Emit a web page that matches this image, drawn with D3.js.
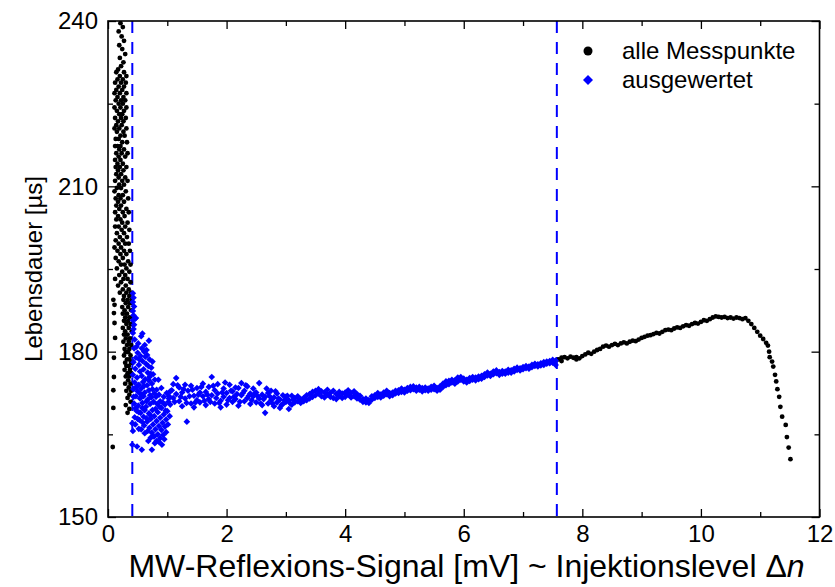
<!DOCTYPE html>
<html>
<head>
<meta charset="utf-8">
<title>Lebensdauer vs. MW-Reflexions-Signal</title>
<script src="https://d3js.org/d3.v7.min.js"></script>
<style>
  body { margin: 0; background: #fff; }
  svg { display: block; }
  text { font-family: "Liberation Sans", Arial, sans-serif; fill: #000; }
</style>
</head>
<body>
<svg width="835" height="587"></svg>
<script>
// alle Messpunkte (schwarz) - [Signal mV, Lebensdauer µs]
const allePunkte = [
  [0.21,239.6],[0.25,238.9],[0.18,238.1],[0.23,237.2],[0.27,236.4],[0.19,235.6],[0.24,234.9],[0.29,234.0],
  [0.20,233.3],[0.26,232.5],[0.22,231.8],[0.17,231.2],
  [0.14,230.7],[0.27,230.7],[0.20,230.0],[0.31,230.0],[0.16,229.4],[0.25,229.4],[0.12,228.8],[0.22,228.8],[0.30,228.8],
  [0.18,228.1],[0.27,228.1],[0.14,227.5],[0.24,227.5],[0.20,226.9],[0.31,226.9],[0.11,226.9],[0.16,226.2],[0.26,226.2],
  [0.13,225.6],[0.22,225.6],[0.29,225.6],[0.18,225.0],[0.25,225.0],[0.11,224.3],[0.21,224.3],[0.31,224.3],[0.15,223.7],
  [0.27,223.7],[0.19,223.1],[0.24,223.1],[0.12,222.4],[0.22,222.4],[0.30,222.4],[0.17,221.8],[0.26,221.8],[0.14,221.1],
  [0.23,221.1],[0.19,220.5],[0.31,220.5],[0.11,220.5],[0.15,219.9],[0.26,219.9],[0.21,219.2],[0.28,219.2],[0.13,218.6],
  [0.18,218.6],[0.24,218.0],[0.32,218.0],[0.16,217.3],[0.21,217.3],[0.12,217.3],[0.27,216.7],[0.19,216.7],[0.14,216.0],
  [0.23,216.0],[0.33,216.0],[0.18,215.4],[0.29,215.4],[0.12,214.8],[0.21,214.8],[0.25,214.1],[0.16,214.1],[0.31,213.5],
  [0.20,213.5],[0.13,213.5],[0.17,212.9],[0.26,212.9],[0.22,212.2],[0.14,212.2],[0.29,211.6],[0.18,211.6],[0.12,211.0],
  [0.24,211.0],[0.33,211.0],[0.19,210.3],[0.27,210.3],[0.15,209.7],[0.22,209.7],[0.30,209.1],[0.11,209.1],[0.18,208.4],
  [0.25,208.4],[0.13,207.8],[0.21,207.8],[0.34,207.8],[0.27,207.2],[0.17,207.2],[0.22,206.5],[0.14,206.5],[0.31,205.9],
  [0.19,205.9],[0.25,205.3],[0.12,205.3],[0.35,205.3],[0.17,204.6],[0.28,204.6],[0.21,204.0],[0.14,204.0],[0.33,203.4],
  [0.24,203.4],[0.18,202.7],[0.29,202.7],[0.12,202.7],[0.23,202.1],[0.36,202.1],[0.15,201.5],[0.27,201.5],[0.20,200.8],
  [0.32,200.8],[0.13,200.2],[0.25,200.2],[0.35,199.6],[0.18,199.6],[0.29,199.6],[0.22,198.9],[0.11,198.9],[0.27,198.3],
  [0.16,198.3],[0.37,198.3],[0.31,197.7],[0.21,197.7],[0.13,197.0],[0.25,197.0],[0.34,196.4],[0.18,196.4],[0.28,195.8],
  [0.22,195.8],[0.38,195.8],[0.15,195.1],[0.31,195.1],[0.24,194.5],[0.36,194.5],[0.19,193.9],[0.29,193.9],[0.33,193.2],
  [0.12,193.2],[0.26,193.2],[0.22,192.6],[0.38,192.6],[0.30,192.0],[0.17,192.0],[0.25,191.3],[0.35,191.3],[0.20,190.7],
  [0.31,190.7],[0.39,190.7],[0.27,190.1],[0.36,190.1],
  [0.26,189.4],[0.33,189.4],[0.40,189.4],[0.30,188.8],[0.37,188.8],[0.24,188.1],[0.34,188.1],[0.28,187.5],[0.39,187.5],
  [0.32,186.9],[0.25,186.9],[0.36,186.2],[0.29,186.2],[0.41,186.2],[0.27,185.6],[0.34,185.6],[0.31,185.0],[0.38,185.0],
  [0.25,184.3],[0.35,184.3],[0.29,183.7],[0.40,183.7],[0.33,183.1],[0.27,183.1],[0.37,182.4],[0.30,182.4],[0.26,181.8],
  [0.35,181.8],[0.32,181.2],[0.39,181.2],[0.28,180.5],[0.36,180.5],[0.34,179.9],[0.30,179.9],[0.38,179.3],[0.27,179.3],
  [0.32,178.6],[0.36,178.6],[0.29,178.0],[0.39,178.0],[0.35,177.4],[0.31,177.4],[0.28,176.7],[0.37,176.7],[0.33,176.1],
  [0.39,176.1],[0.30,175.5],[0.36,175.5],[0.34,174.8],[0.29,174.2],[0.38,174.2],[0.35,173.5],[0.31,172.9],[0.39,172.9],
  [0.36,172.2],[0.33,171.6],[0.38,170.9],[0.30,170.3],[0.36,169.6],[0.33,168.9],
  [0.09,189.4],[0.11,188.5],[0.10,187.0],[0.11,185.2],[0.12,182.5],[0.10,178.9],[0.10,175.4],[0.09,173.0],
  [0.09,169.8],[0.08,162.7],
  [7.60,178.6],[7.65,178.9],[7.65,178.3],[7.70,179.0],[7.75,178.8],[7.80,179.1],[7.85,178.9],[7.90,179.0],[7.90,178.6],
  [7.95,178.8],[8.00,179.2],[8.05,179.5],[8.10,179.8],[8.15,179.6],[8.20,180.0],[8.25,180.3],[8.30,180.5],[8.35,180.9],
  [8.40,181.1],[8.45,180.9],[8.50,181.2],[8.55,181.4],[8.60,181.2],[8.65,181.5],[8.70,181.7],[8.75,181.5],[8.80,181.8],
  [8.85,182.0],[8.90,181.9],[8.95,182.2],[9.00,182.5],[9.05,182.7],[9.10,182.9],[9.15,183.0],[9.20,183.2],[9.25,183.4],
  [9.30,183.3],[9.35,183.6],[9.40,183.9],[9.45,184.0],[9.50,183.9],[9.55,184.2],[9.60,184.4],[9.65,184.3],[9.70,184.6],
  [9.75,184.8],[9.80,184.7],[9.85,185.0],[9.90,185.2],[9.95,185.1],[10.00,185.4],[10.05,185.7],[10.10,185.6],
  [10.15,185.9],[10.20,186.2],[10.25,186.4],[10.30,186.3],[10.35,186.2],[10.40,186.3],[10.45,186.1],[10.50,186.2],
  [10.55,186.0],[10.60,186.2],[10.65,186.1],[10.70,185.9],[10.75,186.1],[10.80,185.6],[10.85,185.0],[10.90,184.3],
  [10.95,183.6],[11.00,182.9],[11.05,182.3],[11.10,181.6],[11.13,181.1],
  [11.15,180.0],[11.16,179.0],[11.20,178.2],[11.22,177.3],[11.25,175.8],[11.27,174.6],[11.29,173.2],[11.32,171.8],
  [11.34,170.0],[11.37,168.2],[11.43,166.7],[11.45,164.5],[11.48,162.6],[11.51,160.5]
];

// ausgewertete Messpunkte (blau)
const ausgewertet = [
  [0.42,190.6],[0.43,189.8],[0.42,189.0],[0.44,188.2],[0.42,187.4],[0.43,186.6],[0.46,186.0],[0.42,185.7],[0.44,184.9],
  [0.43,184.1],[0.42,183.4],[0.47,186.1],[0.58,183.3],[0.65,180.3],[0.69,182.0],
  [0.44,180.6],[0.50,179.8],[0.47,178.9],[0.55,179.2],[0.61,180.0],[0.66,179.4],[0.43,178.1],[0.52,177.6],[0.58,178.3],
  [0.64,177.8],[0.70,178.6],[0.46,176.9],[0.54,176.4],[0.60,176.8],[0.67,176.2],[0.73,177.1],[0.42,175.8],[0.49,175.3],
  [0.57,175.6],[0.63,175.0],[0.70,175.4],[0.45,174.4],[0.52,174.0],[0.59,174.5],[0.66,173.9],[0.74,174.2],[0.43,173.2],
  [0.50,172.8],[0.56,173.3],[0.62,172.6],[0.69,173.0],[0.47,171.9],[0.54,171.5],[0.60,171.9],[0.67,171.3],[0.73,171.7],
  [0.44,170.6],[0.51,170.2],[0.58,170.7],[0.64,170.0],[0.71,170.5],[0.48,169.3],[0.55,168.9],[0.62,169.4],[0.69,168.8],
  [0.45,168.1],[0.53,167.6],[0.60,168.2],[0.76,175.9],[0.78,172.4],[0.80,169.6],
  [0.45,182.2],[0.51,181.5],[0.56,182.8],[0.62,181.2],[0.48,180.9],[0.57,180.6],[0.53,178.6],[0.63,179.1],[0.68,177.4],
  [0.75,178.2],[0.72,176.0],[0.79,174.9],[0.82,173.1],[0.86,172.2],[0.90,173.4],[0.94,171.8],[0.99,172.5],[0.88,171.0],
  [0.83,170.5],[0.77,170.9],[0.75,169.4],[0.71,168.5],[0.65,167.9],[0.58,167.2],[0.50,167.8],[0.46,166.8],[0.56,165.9],
  [0.61,166.6],[0.67,165.6],[0.72,164.4],[0.79,163.4],[0.86,163.6],[0.95,164.1],[1.01,166.8],[1.03,171.9],[0.97,169.3],
  [0.92,170.8],[0.87,170.0],[0.81,171.8],[0.75,173.2],[0.69,174.8],[0.61,173.8],[0.55,172.3],[0.48,173.6],[0.43,171.8],
  [0.46,169.7],[0.52,169.0],[0.58,169.8],[0.65,171.0],[0.71,172.1],
  [0.66,167.3],[0.72,167.8],[0.78,168.3],[0.84,169.0],[0.90,169.8],[0.96,170.4],[1.02,170.9],[0.70,166.2],[0.76,166.8],
  [0.82,167.4],[0.88,168.0],[0.94,168.6],[1.00,169.2],[0.74,165.3],[0.80,165.9],[0.86,166.5],[0.92,167.1],[0.98,167.7],
  [1.04,168.3],[0.78,164.6],[0.84,165.0],[0.90,165.8],[0.96,166.4],[0.82,163.8],[0.88,164.3],[0.93,164.9],[0.98,165.4],
  [0.41,167.0],[0.42,165.6],[0.41,163.1],[0.49,162.8],[0.57,162.2],[0.74,162.2],[0.91,163.1],[0.76,164.6],[0.52,166.0],
  [0.62,165.2],[0.68,163.8],[0.85,174.9],
  [1.05,172.8],[1.05,170.4],[1.10,174.1],[1.10,171.6],[1.15,175.2],[1.15,172.3],[1.20,171.0],[1.20,173.5],[1.25,172.6],
  [1.25,170.1],[1.30,174.0],[1.30,171.5],[1.33,167.3],[1.35,172.9],[1.40,170.6],[1.40,173.8],[1.45,172.0],[1.45,169.9],
  [1.50,173.4],[1.50,171.2],[1.55,170.8],[1.55,172.6],[1.60,174.2],[1.60,171.9],[1.65,172.7],[1.65,170.3],[1.70,171.4],
  [1.70,173.6],[1.75,175.4],[1.75,172.1],[1.80,170.6],[1.80,173.0],[1.85,172.4],[1.85,174.1],[1.90,171.1],[1.90,169.9],
  [1.95,173.3],[1.95,171.8],[2.00,172.5],[2.00,170.4],[2.05,174.0],[2.05,171.6],[2.10,170.9],[2.10,172.8],[2.15,173.5],
  [2.15,171.4],[2.20,173.4],[2.20,170.2],[2.25,172.1],[2.25,174.3],[2.30,171.0],[2.30,172.9],[2.35,173.7],[2.35,171.6],
  [2.40,170.5],[2.40,172.4],[2.45,171.9],[2.45,173.3],[2.50,172.6],[2.50,170.8],[2.55,174.3],[2.55,171.5],[2.60,172.2],
  [2.60,170.3],[2.65,168.9],[2.65,171.8],[2.70,172.5],[2.70,170.6],[2.75,171.2],[2.75,172.9],[2.80,170.1],[2.80,171.7],
  [2.85,172.4],[2.85,170.8],[2.90,171.3],[2.90,169.8],[2.95,172.1],[2.95,170.5],[3.00,170.9],[3.00,171.8],[3.05,169.6],
  [1.025,171.5],[1.075,173.0],[1.125,170.9],[1.175,173.9],[1.225,171.8],[1.275,173.2],[1.325,170.7],[1.375,171.9],
  [1.425,173.1],[1.475,170.8],[1.525,172.2],[1.575,173.6],[1.625,171.1],[1.675,172.2],[1.725,170.9],[1.775,173.8],
  [1.825,171.6],[1.875,170.7],[1.925,172.6],[1.975,174.4],[2.025,171.2],[2.075,172.9],[2.125,171.8],[2.175,172.3],
  [2.225,170.9],[2.275,172.5],[2.325,173.9],[2.375,172.0],[2.425,171.2],[2.475,172.4],[2.525,171.9],[2.575,170.6],
  [2.625,171.4],[2.675,173.3],[2.725,171.9],[2.775,170.6],[2.825,172.8],[2.875,171.5],[2.925,170.3],[2.975,171.2],
  [3.025,172.0],[3.075,170.6],[3.125,171.3],
  [3.05,171.2],[3.10,170.4],[3.10,172.0],[3.15,171.6],[3.15,170.8],[3.20,171.0],[3.20,171.9],[3.25,170.7],[3.25,171.4],
  [3.30,171.6],[3.30,171.0],[3.35,171.2],[3.35,172.1],[3.40,172.3],[3.40,171.5],[3.45,171.8],[3.45,172.7],[3.50,172.9],
  [3.50,172.1],[3.55,172.4],[3.55,173.2],[3.60,171.9],[3.60,172.8],[3.65,172.6],[3.65,171.7],[3.70,172.2],[3.70,173.1],
  [3.75,171.8],[3.75,172.5],[3.80,172.9],[3.80,171.6],[3.85,172.3],[3.85,171.4],[3.90,171.9],[3.90,172.7],[3.95,172.4],
  [3.95,171.6],[4.00,171.8],[4.00,172.6],[4.05,173.0],[4.05,172.2],[4.10,172.5],[4.10,171.7],[4.15,171.9],[4.15,172.8],
  [4.20,172.3],[4.20,171.5],[4.25,172.0],[4.25,171.3],[4.30,171.4],[4.30,170.9],[4.35,170.8],[4.35,171.5],[4.40,171.2],
  [4.40,170.7],[4.45,171.9],[4.45,171.3],[4.50,172.1],[4.50,171.6],[4.55,171.8],[4.55,172.5],[4.60,172.2],[4.60,171.7],
  [4.65,172.6],[4.65,172.0],[4.70,172.3],[4.70,172.9],[4.75,171.9],[4.75,172.5],[4.80,172.6],[4.80,172.1],[4.85,172.4],
  [4.85,172.9],[4.90,173.0],[4.90,172.5],[4.95,172.7],[4.95,173.3],[5.00,173.1],[5.00,172.6],[5.05,172.9],[5.05,173.4],
  [5.10,173.6],[5.10,173.0],[5.15,173.2],[5.15,173.7],[5.20,173.5],[5.20,172.9],[5.25,173.1],[5.25,173.6],[5.30,173.4],
  [5.30,172.8],[5.35,173.0],[5.35,173.5],[5.40,173.3],[5.40,172.9],[5.45,173.1],[5.45,173.6],[5.50,173.8],[5.50,173.2],
  [5.55,173.4],[5.55,172.9],[5.60,173.7],[5.60,173.1],[5.65,174.2],[5.65,173.6],[5.70,174.6],[5.70,173.9],[5.75,174.1],
  [5.75,174.7],[5.80,174.4],[5.80,174.9],[5.85,174.8],[5.85,174.2],[5.90,175.3],[5.90,174.6],[5.95,174.9],[5.95,175.4],
  [6.00,174.6],[6.00,175.1],[6.05,174.9],[6.05,174.4],[6.10,175.2],[6.10,174.7],[6.15,174.9],[6.15,175.4],[6.20,175.3],
  [6.20,174.8],[6.25,175.0],[6.25,175.5],[6.30,175.6],[6.30,175.1],[6.35,175.4],[6.35,175.9],[6.40,175.7],[6.40,176.2],
  [6.45,176.0],[6.45,175.6],[6.50,176.4],[6.50,175.9],[6.55,176.1],[6.55,176.6],[6.60,176.3],[6.60,175.8],[6.65,176.0],
  [6.65,176.5],[6.70,176.4],[6.70,176.0],[6.75,176.2],[6.75,176.7],[6.80,176.6],[6.80,176.2],[6.85,176.9],[6.85,176.4],
  [6.90,176.7],[6.90,177.1],[6.95,177.0],[6.95,176.6],[7.00,177.2],[7.00,176.8],[7.05,177.0],[7.05,177.4],[7.10,177.3],
  [7.10,176.9],[7.15,177.6],[7.15,177.2],[7.20,177.4],[7.20,177.8],[7.25,177.7],[7.25,177.3],[7.30,177.9],[7.30,177.5],
  [7.35,178.1],[7.35,177.6],[7.40,177.8],[7.40,178.2],[7.45,178.3],[7.45,177.9],[7.50,178.0],[7.50,178.5],[7.55,178.4],
  [7.55,177.6]
];

const grenzen = [0.41, 7.57];          // Auswertebereich (gestrichelt)
const xTicks = [0, 2, 4, 6, 8, 10, 12];
const xMinor = [1, 3, 5, 7, 9, 11];
const yTicks = [150, 180, 210, 240];
const yMinor = [165, 195, 225];
const legendLabels = ["alle Messpunkte", "ausgewertet"];

const margin = { top: 21, right: 15.5, bottom: 70, left: 108 };
const width = 835 - margin.left - margin.right;
const height = 587 - margin.top - margin.bottom;

const svg = d3.select("svg")
  .append("g")
  .attr("transform", `translate(${margin.left},${margin.top})`);

const x = d3.scaleLinear().domain([0, 12]).range([0, width]);
const y = d3.scaleLinear().domain([150, 240]).range([height, 0]);

svg.append("clipPath").attr("id", "clip")
  .append("rect").attr("width", width).attr("height", height);

const plot = svg.append("g").attr("clip-path", "url(#clip)");

// dashed limits
plot.selectAll(".grenze")
  .data(grenzen)
  .enter().append("line")
  .attr("x1", d => x(d)).attr("x2", d => x(d))
  .attr("y1", 0).attr("y2", height)
  .attr("stroke", "#0000ff")
  .attr("stroke-width", 2)
  .attr("stroke-dasharray", "12,9");

plot.selectAll(".alle")
  .data(allePunkte)
  .enter().append("circle")
  .attr("cx", d => x(d[0]))
  .attr("cy", d => y(d[1]))
  .attr("r", 2.4)
  .attr("fill", "#000");

const raute = d3.symbol().type(d3.symbolSquare).size(22);
plot.selectAll(".ausw")
  .data(ausgewertet)
  .enter().append("path")
  .attr("d", raute)
  .attr("transform", d => `translate(${x(d[0])},${y(d[1])}) rotate(45)`)
  .attr("fill", "#0000ff");

// axes with inward ticks on all four sides
function styleAxis(g) {
  g.select(".domain").remove();
  g.selectAll("line").attr("stroke", "#000").attr("stroke-width", 1.3);
  g.selectAll("text").style("font-size", "24px");
}

svg.append("g")
  .attr("transform", `translate(0,${height})`)
  .call(d3.axisBottom(x).tickValues(xTicks).tickFormat(d3.format("d")).tickSize(-8).tickPadding(8))
  .call(styleAxis);
svg.append("g")
  .attr("transform", `translate(0,${height})`)
  .call(d3.axisBottom(x).tickValues(xMinor).tickFormat("").tickSize(-5))
  .call(styleAxis);
svg.append("g")
  .call(d3.axisTop(x).tickValues(xTicks).tickFormat("").tickSize(-8))
  .call(styleAxis);
svg.append("g")
  .call(d3.axisTop(x).tickValues(xMinor).tickFormat("").tickSize(-5))
  .call(styleAxis);

svg.append("g")
  .call(d3.axisLeft(y).tickValues(yTicks).tickFormat(d3.format("d")).tickSize(-8).tickPadding(10))
  .call(styleAxis);
svg.append("g")
  .call(d3.axisLeft(y).tickValues(yMinor).tickFormat("").tickSize(-5))
  .call(styleAxis);
svg.append("g")
  .attr("transform", `translate(${width},0)`)
  .call(d3.axisRight(y).tickValues(yTicks).tickFormat("").tickSize(-8))
  .call(styleAxis);
svg.append("g")
  .attr("transform", `translate(${width},0)`)
  .call(d3.axisRight(y).tickValues(yMinor).tickFormat("").tickSize(-5))
  .call(styleAxis);

// frame
svg.append("rect")
  .attr("width", width).attr("height", height)
  .attr("fill", "none").attr("stroke", "#000").attr("stroke-width", 1.6);

// axis titles
const xTitle = svg.append("text")
  .attr("x", (133 - margin.left + 800 - margin.left) / 2)
  .attr("y", height + 60)
  .attr("text-anchor", "middle")
  .style("font-size", "32px");
xTitle.append("tspan").text("MW-Reflexions-Signal [mV] ~ Injektionslevel \u0394");
xTitle.append("tspan").style("font-style", "italic").text("n");

svg.append("text")
  .attr("transform", `translate(${-66},${height / 2}) rotate(-90)`)
  .attr("text-anchor", "middle")
  .style("font-size", "24px")
  .text("Lebensdauer [µs]");

// legend
const legend = svg.append("g").attr("transform", `translate(${588 - margin.left},${51 - margin.top})`);
const items = legend.selectAll("g")
  .data(legendLabels)
  .enter().append("g")
  .attr("transform", (d, i) => `translate(0,${i * 29})`);
items.filter((d, i) => i === 0).append("circle").attr("r", 4.5).attr("fill", "#000");
items.filter((d, i) => i === 1).append("path")
  .attr("d", d3.symbol().type(d3.symbolSquare).size(50))
  .attr("transform", "rotate(45)")
  .attr("fill", "#0000ff");
items.append("text")
  .attr("x", 34)
  .attr("dy", "0.35em")
  .style("font-size", "24px")
  .text(d => d);
</script>
</body>
</html>
